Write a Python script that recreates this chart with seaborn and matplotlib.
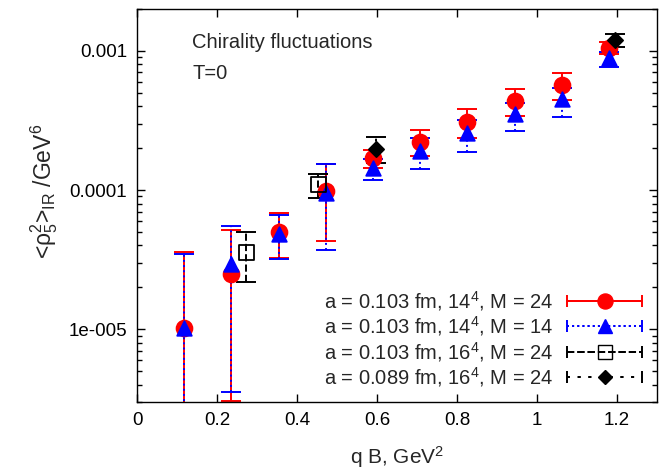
import numpy as np
import pandas as pd
import seaborn as sns
import matplotlib
matplotlib.use("Agg")
from matplotlib import pyplot as plt
from matplotlib.container import ErrorbarContainer
from matplotlib.legend_handler import HandlerErrorbar
from matplotlib.ticker import LogLocator, NullFormatter

# a = 0.103 fm, 14^4, M = 24
qb_a = [0.118, 0.236, 0.354, 0.472, 0.590, 0.708, 0.826, 0.944, 1.062, 1.180]
rho_a = [1.02e-5, 2.5e-5, 5.0e-5, 9.8e-5, 1.69e-4, 2.23e-4, 3.08e-4, 4.39e-4, 5.69e-4, 1.046e-3]
hi_a = [3.6e-5, 5.15e-5, 6.8e-5, 1.53e-4, 1.93e-4, 2.7e-4, 3.85e-4, 5.36e-4, 6.98e-4, 1.16e-3]
lo_a = [1e-6, 3.05e-6, 3.26e-5, 4.3e-5, 1.45e-4, 1.75e-4, 2.35e-4, 3.39e-4, 4.44e-4, 9.47e-4]

# a = 0.103 fm, 14^4, M = 14
qb_b = [0.118, 0.236, 0.354, 0.472, 0.590, 0.708, 0.826, 0.944, 1.062, 1.180]
rho_b = [1.02e-5, 2.96e-5, 4.85e-5, 9.6e-5, 1.43e-4, 1.92e-4, 2.58e-4, 3.52e-4, 4.52e-4, 8.86e-4]
hi_b = [3.45e-5, 5.53e-5, 6.58e-5, 1.53e-4, 1.66e-4, 2.35e-4, 3.19e-4, 4.25e-4, 5.42e-4, 9.78e-4]
lo_b = [1e-6, 3.54e-6, 3.2e-5, 3.7e-5, 1.18e-4, 1.42e-4, 1.87e-4, 2.67e-4, 3.37e-4, 7.7e-4]

# a = 0.103 fm, 16^4, M = 24
qb_c = [0.273, 0.453]
rho_c = [3.56e-5, 1.1e-4]
hi_c = [4.96e-5, 1.31e-4]
lo_c = [2.17e-5, 8.8e-5]

# a = 0.089 fm, 16^4, M = 24
qb_d = [0.598, 1.196]
rho_d = [1.97e-4, 1.2e-3]
hi_d = [2.4e-4, 1.33e-3]
lo_d = [1.56e-4, 1.06e-3]

labels = [r"a = 0.103 fm, 14$^4$, M = 24",
          r"a = 0.103 fm, 14$^4$, M = 14",
          r"a = 0.103 fm, 16$^4$, M = 24",
          r"a = 0.089 fm, 16$^4$, M = 24"]

sns.set_theme(style="ticks")
plt.rcParams["font.family"] = ["Liberation Sans", "DejaVu Sans"]
plt.rcParams["mathtext.fontset"] = "custom"
plt.rcParams["mathtext.rm"] = "Liberation Sans"
plt.rcParams["mathtext.it"] = "Liberation Sans:italic"

fig = plt.figure(figsize=(6.67, 4.69), dpi=100)
ax = fig.add_axes([0.2054, 0.1429, 0.7796, 0.8379])

series = [
    (qb_a, rho_a, hi_a, lo_a, "red", "-", "o", 130, "red"),
    (qb_b, rho_b, hi_b, lo_b, "blue", ":", "^", 110, "blue"),
    (qb_c, rho_c, hi_c, lo_c, "black", "--", "s", 120, "none"),
    (qb_d, rho_d, hi_d, lo_d, "black", (0, (1.5, 4)), "D", 60, "black"),
]

handles = []
for i, (x, y, hi, lo, col, ls, mk, size, face) in enumerate(series):
    y = np.array(y)
    err = [y - np.array(lo), np.array(hi) - y]
    eb = ax.errorbar(x, y, yerr=err, fmt="none", ecolor=col, elinewidth=1.4,
                     capsize=7, capthick=1.4, zorder=2 + i)
    eb[2][0].set_linestyle(ls)
    df = pd.DataFrame({"qB": x, "rho": y})
    sns.scatterplot(data=df, x="qB", y="rho", ax=ax, marker=mk, s=size,
                    color=col, facecolor=face, edgecolor=col, linewidth=1.3,
                    legend=False, zorder=10 + i)
    # dummy container for the legend sample
    h = ax.errorbar([np.nan], [np.nan], xerr=[np.nan], color=col, ls=ls,
                    marker=mk, markersize=np.sqrt(size) * 0.95,
                    markerfacecolor=face, markeredgecolor=col, lw=1.4,
                    elinewidth=1.4, capsize=4, capthick=1.4)
    h[2][0].set_linestyle(ls)
    handles.append(h)

ax.set_yscale("log")
ax.set_xlim(0, 1.3)
ax.set_ylim(3e-6, 2e-3)
ax.set_xticks([0, 0.2, 0.4, 0.6, 0.8, 1.0, 1.2])
ax.set_xticklabels(["0", "0.2", "0.4", "0.6", "0.8", "1", "1.2"])
ax.set_yticks([1e-5, 1e-4, 1e-3])
ax.set_yticklabels(["1e-005", "0.0001", "0.001"])
ax.yaxis.set_minor_locator(LogLocator(base=10, subs=np.arange(2, 10)))
ax.yaxis.set_minor_formatter(NullFormatter())
ax.tick_params(which="both", direction="in", top=True, right=True,
               labelsize=13.5, colors="black", pad=7)
ax.tick_params(which="major", length=6, width=1)
ax.tick_params(which="minor", length=3.5, width=1)
for s in ax.spines.values():
    s.set_color("black")
    s.set_linewidth(1.0)

ax.set_xlabel(r"q B, GeV$^2$", fontsize=15, labelpad=11)
ax.set_ylabel(r"<$\mathrm{\rho}_5^{2}$>$_{\mathrm{IR}}$ /GeV$^6$", fontsize=16.5)
ax.yaxis.set_label_coords(-0.148, 0.535)

ax.text(0.106, 0.916, "Chirality fluctuations", transform=ax.transAxes,
        fontsize=14.5, va="center")
ax.text(0.106, 0.837, "T=0", transform=ax.transAxes, fontsize=14.5, va="center")

ax.legend(handles, labels, loc="lower right", frameon=False, markerfirst=False,
          handlelength=3.7, handletextpad=0.7, fontsize=14.5, labelspacing=0.07,
          handler_map={ErrorbarContainer: HandlerErrorbar(xerr_size=1.85)},
          bbox_to_anchor=(1.0, -0.005), borderaxespad=0.35)

fig.savefig("out.png", dpi=100)
